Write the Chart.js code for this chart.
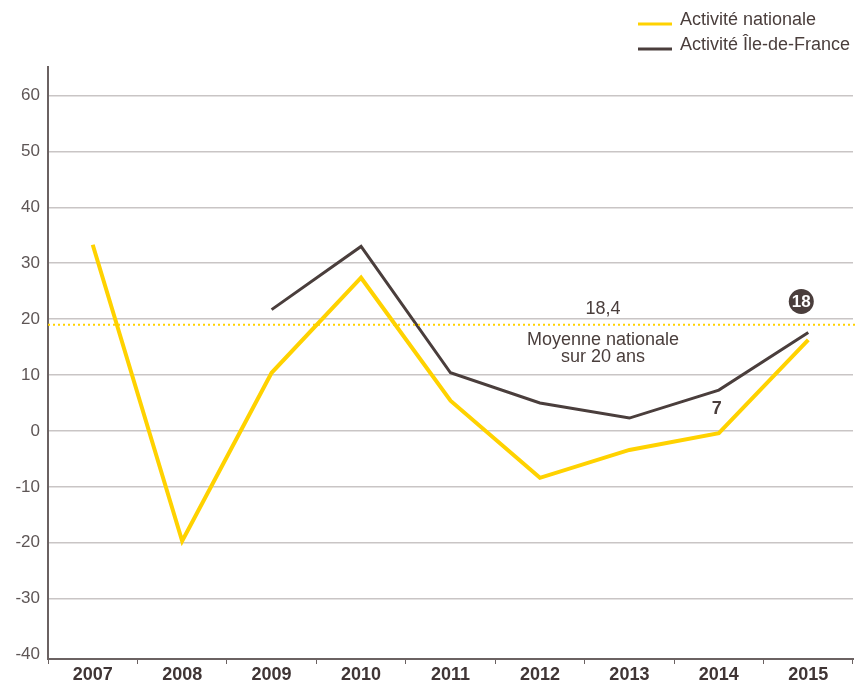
<!doctype html>
<html lang="fr">
<head>
<meta charset="utf-8" />
<title>Activité nationale / Île-de-France</title>
<script src="https://cdn.jsdelivr.net/npm/chart.js"></script>
<style>
  html, body { margin: 0; padding: 0; background: #fff; }
  #wrap { position: relative; width: 856px; height: 683px; }
</style>
</head>
<body>
<div id="wrap"><canvas id="chartActivite"></canvas></div>
<script>
    // data
    const years = ['2007', '2008', '2009', '2010', '2011', '2012', '2013', '2014', '2015'];
    const nationale = [33.3, -19.7, 10.4, 27.4, 5.4, -8.4, -3.4, -0.4, 16.3];
    const ileDeFrance = [null, null, 21.7, 33.0, 10.4, 5.0, 2.3, 7.3, 17.6];
    const moyenne = 19;
    const moyenneLabel = '18,4';
    const yTicks = [60, 50, 40, 30, 20, 10, 0, -10, -20, -30, -40];

    const YELLOW = '#ffd200';
    const DARK = '#4a3e3c';
    const FONT = '"Liberation Sans", Arial, sans-serif';

    // legend, average line and labels drawn on top of the chart
    const extras = {
        id: 'extras',
        afterDatasetsDraw(chart) {
            const ctx = chart.ctx;
            const x = chart.scales.x;
            const y = chart.scales.y;
            const area = chart.chartArea;
            ctx.save();

            // average line
            const ya = y.getPixelForValue(moyenne);
            ctx.strokeStyle = YELLOW;
            ctx.lineWidth = 2;
            ctx.setLineDash([2, 3]);
            ctx.beginPath();
            ctx.moveTo(area.left, ya);
            ctx.lineTo(856, ya);
            ctx.stroke();
            ctx.setLineDash([]);

            ctx.fillStyle = DARK;
            ctx.textAlign = 'center';
            ctx.textBaseline = 'middle';
            ctx.font = '18px ' + FONT;
            ctx.fillText(moyenneLabel, 603, ya - 16);
            ctx.fillText('Moyenne nationale', 603, ya + 15);
            ctx.fillText('sur 20 ans', 603, ya + 32);

            // value labels
            const x14 = x.getPixelForValue(7);
            ctx.font = 'bold 18px ' + FONT;
            ctx.fillText('7', x14 - 2, y.getPixelForValue(ileDeFrance[7]) + 19);

            const x15 = x.getPixelForValue(8);
            const yc = y.getPixelForValue(ileDeFrance[8]) - 31;
            ctx.beginPath();
            ctx.arc(x15 - 7, yc, 12.5, 0, Math.PI * 2);
            ctx.fill();
            ctx.fillStyle = '#fff';
            ctx.font = 'bold 17px ' + FONT;
            ctx.fillText('18', x15 - 7, yc + 1);

            // legend
            const items = [[YELLOW, 'Activité nationale', 23], [DARK, 'Activité Île-de-France', 48]];
            ctx.textAlign = 'left';
            ctx.font = '18px ' + FONT;
            for (const [col, label, ly] of items) {
                ctx.strokeStyle = col;
                ctx.lineWidth = 3;
                ctx.beginPath();
                ctx.moveTo(638, ly + 1);
                ctx.lineTo(672, ly + 1);
                ctx.stroke();
                ctx.fillStyle = DARK;
                ctx.fillText(label, 680, ly - 3);
            }
            ctx.restore();
        }
    };

    const ctx = document.getElementById('chartActivite');
    const myChart = new Chart(ctx, {
        type: 'line',
        data: {
            labels: years,
            datasets: [
                {
                    label: 'Activité nationale',
                    data: nationale,
                    borderColor: YELLOW,
                    borderWidth: 4,
                    pointRadius: 0,
                    tension: 0
                },
                {
                    label: 'Activité Île-de-France',
                    data: ileDeFrance,
                    borderColor: DARK,
                    borderWidth: 3,
                    pointRadius: 0,
                    tension: 0
                }
            ]
        },
        options: {
            responsive: true,
            maintainAspectRatio: false,
            animation: false,
            layout: { padding: { top: 67, right: 3, left: 0, bottom: 0 } },
            plugins: {
                legend: { display: false },
                tooltip: { enabled: false }
            },
            scales: {
                x: {
                    offset: true,
                    grid: {
                        offset: true,
                        drawOnChartArea: false,
                        drawTicks: true,
                        tickLength: 5,
                        color: '#6b6262'
                    },
                    border: { color: '#6b6262', width: 2 },
                    ticks: {
                        color: '#3f3535',
                        font: { family: FONT, size: 18, weight: 'bold' },
                        padding: 0,
                        maxRotation: 0
                    },
                    afterFit(scale) { scale.height = 24; }
                },
                y: {
                    min: -40.8,
                    max: 65.1,
                    grid: {
                        color: (c) => (c.tick && c.tick.value === -40 ? 'rgba(0,0,0,0)' : '#c9c5c5'),
                        lineWidth: 1.5,
                        drawTicks: false
                    },
                    border: { color: '#6b6262', width: 2 },
                    ticks: {
                        color: '#5e5656',
                        font: { family: FONT, size: 17 },
                        padding: 8
                    },
                    afterBuildTicks(scale) {
                        scale.ticks = yTicks.map(v => ({ value: v }));
                    },
                    afterFit(scale) { scale.width = 48; }
                }
            }
        },
        plugins: [extras]
    });
</script>
</body>
</html>
